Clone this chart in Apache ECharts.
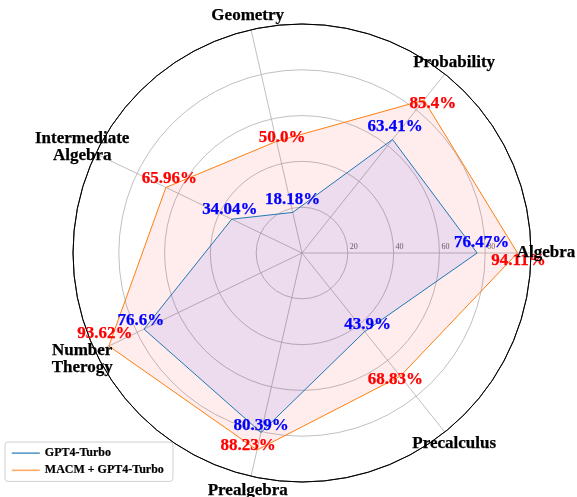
<!DOCTYPE html>
<html><head><meta charset="utf-8">
<script src="https://cdn.jsdelivr.net/npm/echarts@6/dist/echarts.min.js"></script>
<style>html,body{margin:0;padding:0;background:#fff}#c{width:577px;height:497px}</style>
</head><body><div id="c"></div>
<script>
// ---- data ----
const categories = ['Algebra', 'Probability', 'Geometry', 'Intermediate\nAlgebra', 'Number\nTherogy', 'Prealgebra', 'Precalculus'];
const gpt4Turbo = [76.47, 63.41, 18.18, 34.04, 76.6, 80.39, 43.9];
const macmGpt4Turbo = [94.11, 85.4, 50.0, 65.96, 93.62, 88.23, 68.83];
const seriesNames = ['GPT4-Turbo', 'MACM + GPT4-Turbo'];
const radialMax = 100;
const radialStep = 20;

// ---- layout (label nudges, px) ----
const gptLabelNudge = [[4.5, -10.5], [2.5, -13], [0, -13], [-2, -10], [-3, -8], [0, -7], [3, -7]];
const macmLabelNudge = [[1, 8], [9, 3.5], [5.5, -4], [3.5, -9], [-4, -12.5], [-9, -4.5], [-5, 3]];

const SERIF = '"Liberation Serif", "DejaVu Serif", serif';
const n = categories.length;
const closed = vals => vals.map((v, i) => [v, i]).concat([[vals[0], n]]);
const fmt = v => (Number.isInteger(v) ? v.toFixed(1) : String(v)) + '%';
const labelPts = (vals, nudge) => vals.map((v, i) => ({ value: [v, i], label: { offset: nudge[i] } }));
const textBase = col => ({ show: true, position: 'inside', fontFamily: SERIF, fontWeight: 'bold', fontSize: 17,
  color: col, opacity: 1, textBorderWidth: 0.25, textBorderColor: col, textShadowBlur: 0 });

const chart = echarts.init(document.getElementById('c'), null, { renderer: 'canvas' });
const gridGray = '#b0b0b0';
chart.setOption({
  animation: false,
  backgroundColor: '#fff',
  polar: [
    { center: [302, 253], radius: 229 },
    { center: [302, 253], radius: 244 }
  ],
  angleAxis: [
    { polarIndex: 0, type: 'value', min: 0, max: n, interval: 1, startAngle: 0, clockwise: false,
      axisLine: { show: true, lineStyle: { color: '#000', width: 1 } },
      axisTick: { show: false }, axisLabel: { show: false },
      splitLine: { show: true, lineStyle: { color: gridGray, width: 0.8 } } },
    { polarIndex: 1, type: 'value', min: 0, max: n, interval: 1, startAngle: 0, clockwise: false,
      axisLine: { show: false }, axisTick: { show: false }, axisLabel: { show: false }, splitLine: { show: false } }
  ],
  radiusAxis: [
    { polarIndex: 0, type: 'value', min: 0, max: radialMax, interval: radialStep,
      axisLine: { show: false }, axisTick: { show: false },
      axisLabel: { show: true, showMinLabel: false, showMaxLabel: false, fontSize: 8, color: '#666',
        fontFamily: SERIF, margin: 2, align: 'left', padding: [0, 0, 0, 2] },
      splitLine: { show: true, lineStyle: { color: [gridGray, gridGray, gridGray, gridGray, gridGray, '#000'], width: 0.8 } } },
    { polarIndex: 1, type: 'value', min: 0, max: radialMax,
      axisLine: { show: false }, axisTick: { show: false }, axisLabel: { show: false }, splitLine: { show: false } }
  ],
  legend: {
    data: [
      { name: seriesNames[0], lineStyle: { color: '#1f77b4', width: 1.2 }, itemStyle: { opacity: 0, borderWidth: 0 } },
      { name: seriesNames[1], lineStyle: { color: '#ffaa66', width: 1.6 }, itemStyle: { opacity: 0, borderWidth: 0 } }
    ],
    orient: 'vertical', left: 5, top: 442, itemWidth: 28, itemHeight: 12, itemGap: 5,
    padding: [5, 9, 5, 6], borderColor: '#d0d0d0', borderWidth: 1, borderRadius: 3,
    backgroundColor: 'rgba(255,255,255,0.8)',
    textStyle: { fontFamily: SERIF, fontWeight: 'bold', fontSize: 12, color: '#000',
      textBorderWidth: 0.2, textBorderColor: '#000' }
  },
  series: [
    { name: seriesNames[1], type: 'line', coordinateSystem: 'polar', polarIndex: 0,
      data: closed(macmGpt4Turbo), symbol: 'none', z: 3,
      lineStyle: { color: '#ff7f0e', width: 1 }, itemStyle: { color: '#ff7f0e' },
      areaStyle: { color: 'rgba(255,0,0,0.1)' } },
    { name: seriesNames[0], type: 'line', coordinateSystem: 'polar', polarIndex: 0,
      data: closed(gpt4Turbo), symbol: 'none', z: 4,
      lineStyle: { color: '#1f77b4', width: 1 }, itemStyle: { color: '#1f77b4' },
      areaStyle: { color: 'rgba(0,0,255,0.1)' } },
    { name: 'gptLabels', type: 'scatter', coordinateSystem: 'polar', polarIndex: 0, z: 10,
      data: labelPts(gpt4Turbo, gptLabelNudge), symbolSize: 0, itemStyle: { color: '#0000ff', opacity: 1 },
      label: Object.assign(textBase('#0000ff'), { formatter: p => fmt(p.value[0]) }) },
    { name: 'macmLabels', type: 'scatter', coordinateSystem: 'polar', polarIndex: 0, z: 10,
      data: labelPts(macmGpt4Turbo, macmLabelNudge), symbolSize: 0, itemStyle: { color: '#ff0000', opacity: 1 },
      label: Object.assign(textBase('#ff0000'), { formatter: p => fmt(p.value[0]) }) },
    { name: 'categoryNames', type: 'scatter', coordinateSystem: 'polar', polarIndex: 1, z: 11,
      data: categories.map((c, i) => [radialMax, i]), symbolSize: 0, itemStyle: { color: '#000', opacity: 1 },
      label: Object.assign(textBase('#000000'), { lineHeight: 17, align: 'center',
        formatter: p => categories[p.dataIndex] }) }
  ]
});
</script></body></html>
